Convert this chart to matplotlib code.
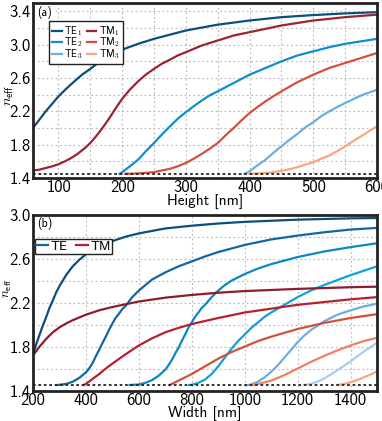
import matplotlib
matplotlib.use("Agg")
import matplotlib.pyplot as plt

plt.rcParams['font.family'] = ['cmss10', 'DejaVu Sans']
plt.rcParams['mathtext.fontset'] = 'cm'
plt.rcParams['axes.unicode_minus'] = False

# cladding index (dotted line)
n_clad = 1.45

# ---- (a) height sweep ----
te1_h = [60, 70, 80, 90, 100, 112, 125, 137, 150, 162, 175, 187, 200, 225, 250, 275, 300, 350, 400, 450, 500, 550, 600]
te1_n = [2.00, 2.10, 2.20, 2.29, 2.38, 2.47, 2.56, 2.64, 2.71, 2.78, 2.84, 2.89, 2.94, 3.01, 3.07, 3.12, 3.17, 3.24, 3.29, 3.33, 3.355, 3.375, 3.39]

tm1_h = [60, 70, 80, 90, 100, 110, 120, 130, 140, 150, 160, 170, 180, 190, 200, 212, 225, 237, 250, 262, 275, 287, 300, 325, 350, 375, 400, 450, 500, 550, 600]
tm1_n = [1.49, 1.50, 1.52, 1.54, 1.565, 1.60, 1.64, 1.69, 1.75, 1.82, 1.91, 2.01, 2.12, 2.24, 2.35, 2.46, 2.56, 2.64, 2.71, 2.77, 2.82, 2.87, 2.91, 2.99, 3.05, 3.11, 3.15, 3.23, 3.29, 3.33, 3.36]

te2_h = [196, 200, 212, 225, 237, 250, 262, 275, 287, 300, 312, 325, 337, 350, 375, 400, 425, 450, 475, 500, 525, 550, 575, 600]
te2_n = [1.45, 1.47, 1.54, 1.62, 1.72, 1.82, 1.92, 2.02, 2.11, 2.19, 2.26, 2.33, 2.39, 2.44, 2.54, 2.64, 2.72, 2.80, 2.87, 2.92, 2.97, 3.01, 3.04, 3.07]

tm2_h = [205, 225, 250, 262, 275, 287, 300, 312, 325, 337, 350, 362, 375, 387, 400, 412, 425, 437, 450, 475, 500, 525, 550, 575, 600]
tm2_n = [1.45, 1.455, 1.47, 1.49, 1.51, 1.54, 1.58, 1.63, 1.69, 1.75, 1.82, 1.91, 2.00, 2.09, 2.18, 2.25, 2.32, 2.38, 2.44, 2.55, 2.64, 2.72, 2.78, 2.84, 2.90]

te3_h = [392, 400, 412, 425, 437, 450, 462, 475, 487, 500, 512, 525, 537, 550, 575, 600]
te3_n = [1.45, 1.48, 1.55, 1.62, 1.70, 1.78, 1.855, 1.93, 2.005, 2.07, 2.14, 2.20, 2.25, 2.30, 2.39, 2.46]

tm3_h = [400, 425, 437, 450, 462, 475, 487, 500, 512, 525, 537, 550, 562, 575, 587, 600]
tm3_n = [1.45, 1.46, 1.47, 1.485, 1.505, 1.53, 1.56, 1.59, 1.63, 1.67, 1.72, 1.78, 1.84, 1.90, 1.96, 2.02]

# ---- (b) width sweep ----
bte0_w = [200, 212, 225, 237, 250, 262, 275, 287, 300, 325, 350, 375, 400, 450, 500, 550, 600, 700, 800, 900, 1000, 1200, 1400, 1500]
bte0_n = [1.72, 1.82, 1.91, 1.99, 2.07, 2.15, 2.22, 2.29, 2.35, 2.45, 2.53, 2.59, 2.64, 2.71, 2.76, 2.80, 2.83, 2.875, 2.90, 2.92, 2.935, 2.955, 2.967, 2.97]

btm0_w = [200, 225, 250, 275, 300, 325, 350, 400, 450, 500, 600, 700, 800, 900, 1000, 1200, 1400, 1500]
btm0_n = [1.72, 1.80, 1.87, 1.93, 1.975, 2.01, 2.04, 2.09, 2.13, 2.16, 2.21, 2.245, 2.27, 2.29, 2.305, 2.325, 2.34, 2.345]

bte1_w = [289, 300, 325, 350, 375, 400, 412, 425, 437, 450, 462, 475, 487, 500, 512, 525, 537, 550, 575, 600, 625, 650, 700, 750, 800, 850, 900, 1000, 1100, 1200, 1300, 1400, 1500]
bte1_n = [1.45, 1.452, 1.46, 1.48, 1.515, 1.565, 1.60, 1.65, 1.71, 1.77, 1.83, 1.89, 1.95, 2.01, 2.06, 2.10, 2.14, 2.17, 2.25, 2.31, 2.36, 2.41, 2.475, 2.53, 2.575, 2.62, 2.66, 2.725, 2.775, 2.81, 2.84, 2.865, 2.88]

bte2_w = [565, 600, 625, 650, 675, 700, 712, 725, 737, 750, 762, 775, 787, 800, 812, 825, 837, 850, 875, 900, 925, 950, 1000, 1050, 1100, 1200, 1300, 1400, 1500]
bte2_n = [1.45, 1.455, 1.47, 1.495, 1.535, 1.59, 1.63, 1.68, 1.735, 1.79, 1.85, 1.91, 1.97, 2.02, 2.07, 2.11, 2.15, 2.18, 2.25, 2.31, 2.36, 2.40, 2.46, 2.51, 2.55, 2.615, 2.665, 2.705, 2.74]

bte3_w = [790, 800, 825, 850, 875, 900, 925, 950, 975, 1000, 1025, 1050, 1075, 1100, 1150, 1200, 1250, 1300, 1400, 1500]
bte3_n = [1.45, 1.452, 1.47, 1.50, 1.55, 1.62, 1.70, 1.78, 1.85, 1.91, 1.97, 2.02, 2.07, 2.11, 2.18, 2.25, 2.31, 2.36, 2.45, 2.53]

bte4_w = [1011, 1025, 1050, 1075, 1100, 1125, 1150, 1175, 1200, 1225, 1250, 1275, 1300, 1350, 1400, 1450, 1500]
bte4_n = [1.45, 1.455, 1.48, 1.52, 1.57, 1.63, 1.70, 1.77, 1.84, 1.90, 1.95, 1.99, 2.03, 2.09, 2.13, 2.165, 2.19]

bte5_w = [1225, 1250, 1275, 1300, 1325, 1350, 1375, 1400, 1425, 1450, 1475, 1500]
bte5_n = [1.45, 1.46, 1.48, 1.51, 1.545, 1.585, 1.625, 1.665, 1.71, 1.755, 1.795, 1.835]

btm1_w = [390, 400, 425, 450, 475, 500, 550, 600, 650, 700, 750, 800, 900, 1000, 1100, 1200, 1300, 1400, 1500]
btm1_n = [1.45, 1.46, 1.505, 1.55, 1.60, 1.645, 1.73, 1.81, 1.875, 1.93, 1.97, 2.005, 2.06, 2.11, 2.145, 2.18, 2.205, 2.23, 2.25]

btm2_w = [716, 750, 800, 850, 900, 950, 1000, 1050, 1100, 1200, 1300, 1400, 1500]
btm2_n = [1.45, 1.49, 1.55, 1.62, 1.69, 1.75, 1.80, 1.85, 1.89, 1.96, 2.015, 2.06, 2.095]

btm3_w = [1024, 1050, 1100, 1150, 1200, 1250, 1300, 1350, 1400, 1450, 1500]
btm3_n = [1.45, 1.46, 1.49, 1.54, 1.60, 1.66, 1.715, 1.765, 1.81, 1.85, 1.88]

btm4_w = [1350, 1375, 1400, 1425, 1450, 1475, 1500]
btm4_n = [1.45, 1.46, 1.475, 1.495, 1.52, 1.545, 1.575]

te_cols = ['#0b4f7c', '#1167a5', '#0d86c8', '#11a0dc', '#6aaee2', '#a8cdee']
tm_cols = ['#8e1c2c', '#b8202f', '#d4503e', '#ef8060', '#f9a77a']

LW = 1.6
FS = 12


def style_axes(ax):
    for s in ax.spines.values():
        s.set_linewidth(2.0)
        s.set_color('#222222')
    ax.tick_params(which='both', length=0, pad=1.5, labelsize=FS)
    ax.grid(True, which='both', linestyle=(0, (1.5, 2.5)), color='#b5b5b5', linewidth=0.8)
    ax.set_axisbelow(True)


fig = plt.figure(figsize=(3.82, 4.21), dpi=100)
ax1 = fig.add_axes([0.0864, 0.5772, 0.9006, 0.4157])
ax2 = fig.add_axes([0.0864, 0.0724, 0.9006, 0.4176])

# (a)
ax1.plot(te1_h, te1_n, color='#0b4f7c', lw=LW, label=r'TE$_{\mathsf{1}}$')
ax1.plot(te2_h, te2_n, color='#0e8dd0', lw=LW, label=r'TE$_{\mathsf{2}}$')
ax1.plot(te3_h, te3_n, color='#6aaee2', lw=LW, label=r'TE$_{\mathsf{3}}$')
ax1.plot(tm1_h, tm1_n, color='#9b2430', lw=LW, label=r'TM$_{\mathsf{1}}$')
ax1.plot(tm2_h, tm2_n, color='#d4503e', lw=LW, label=r'TM$_{\mathsf{2}}$')
ax1.plot(tm3_h, tm3_n, color='#f9a77a', lw=LW, label=r'TM$_{\mathsf{3}}$')
ax1.axhline(n_clad, color='#222222', lw=1.3, linestyle=(0, (1.5, 1.5)))
ax1.set_xlim(60, 600)
ax1.set_ylim(1.4, 3.5)
ax1.set_xticks([100, 200, 300, 400, 500, 600])
ax1.set_xticks([150, 250, 350, 450, 550], minor=True)
ax1.set_yticks([1.4, 1.8, 2.2, 2.6, 3.0, 3.4])
ax1.set_yticks([1.6, 2.0, 2.4, 2.8, 3.2], minor=True)
style_axes(ax1)
ax1.set_xlabel('Height [nm]', fontsize=11, labelpad=-1)
ax1.set_ylabel(r'$n_{\mathsf{eff}}$', fontsize=10)
ax1.yaxis.set_label_coords(-0.048, 0.47)
ax1.text(0.012, 0.985, '(a)', transform=ax1.transAxes, fontsize=8.5, va='top', ha='left',
         bbox=dict(facecolor='white', edgecolor='none', pad=0.5))
leg1 = ax1.legend(loc='upper left', bbox_to_anchor=(0.0465, 0.897), borderaxespad=0, ncol=2,
                  fontsize=7.2, handlelength=0.95, handletextpad=0.25, columnspacing=0.45,
                  labelspacing=-0.2, borderpad=0.3, fancybox=False, framealpha=1,
                  edgecolor='#222222')
leg1.get_frame().set_linewidth(1.0)

# (b)
for (w, n), c in zip([(bte0_w, bte0_n), (bte1_w, bte1_n), (bte2_w, bte2_n),
                      (bte3_w, bte3_n), (bte4_w, bte4_n), (bte5_w, bte5_n)], te_cols):
    ax2.plot(w, n, color=c, lw=LW)
for (w, n), c in zip([(btm0_w, btm0_n), (btm1_w, btm1_n), (btm2_w, btm2_n),
                      (btm3_w, btm3_n), (btm4_w, btm4_n)], tm_cols):
    ax2.plot(w, n, color=c, lw=LW)
ax2.plot([], [], color='#1167a5', lw=LW, label='TE')
ax2.plot([], [], color='#b8202f', lw=LW, label='TM')
ax2.axhline(n_clad, color='#222222', lw=1.3, linestyle=(0, (1.5, 1.5)))
ax2.set_xlim(200, 1500)
ax2.set_ylim(1.4, 3.0)
ax2.set_xticks([200, 400, 600, 800, 1000, 1200, 1400])
ax2.set_yticks([1.4, 1.8, 2.2, 2.6, 3.0])
ax2.set_yticks([1.6, 2.0, 2.4, 2.8], minor=True)
style_axes(ax2)
ax2.set_xlabel('Width [nm]', fontsize=11, labelpad=-1)
ax2.set_ylabel(r'$n_{\mathsf{eff}}$', fontsize=9.5)
ax2.yaxis.set_label_coords(-0.055, 0.585)
ax2.text(0.012, 0.985, '(b)', transform=ax2.transAxes, fontsize=8.5, va='top', ha='left',
         bbox=dict(facecolor='white', edgecolor='none', pad=0.5))
leg2 = ax2.legend(loc='upper left', bbox_to_anchor=(0.006, 0.862), borderaxespad=0, ncol=2,
                  fontsize=9.5, handlelength=0.9, handletextpad=0.2, columnspacing=0.6,
                  borderpad=0.1, fancybox=False, framealpha=1, edgecolor='#222222')
leg2.get_frame().set_linewidth(1.0)

fig.savefig('out.png', dpi=100)
